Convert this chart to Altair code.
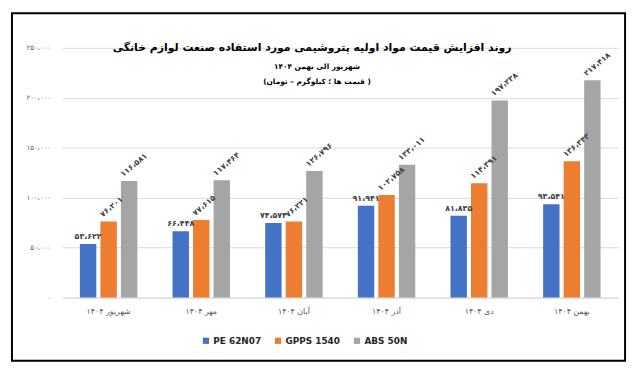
import altair as alt
import pandas as pd

months = ["شهریور ۱۴۰۴", "مهر ۱۴۰۴", "آبان ۱۴۰۴", "آذر ۱۴۰۴", "دی ۱۴۰۴", "بهمن ۱۴۰۴"]
series = ["PE 62N07", "GPPS 1540", "ABS 50N"]
pe_values = [53622, 66448, 74574, 91941, 81835, 93541]
gpps_values = [76201, 77615, 76221, 102758, 114391, 136343]
abs_values = [116581, 117464, 126796, 133011, 197238, 217418]
colors = ["#4472C4", "#ED7D31", "#A5A5A5"]
y_ticks = [0, 50000, 100000, 150000, 200000, 250000]
title_lines = [
    "روند افزایش  قیمت مواد اولیه پتروشیمی مورد استفاده صنعت لوازم خانگی",
    "شهریور الی بهمن ۱۴۰۴",
    "(قیمت ها ؛ کیلوگرم – تومان )",
]

FA = str.maketrans("0123456789", "۰۱۲۳۴۵۶۷۸۹")


def fa_num(v):
    return f"{v:,}".replace(",", "،").translate(FA)


rows = []
for s, vals in zip(series, [pe_values, gpps_values, abs_values]):
    for m, v in zip(months, vals):
        rows.append({"month": m, "series": s, "value": v, "label": fa_num(v)})
df = pd.DataFrame(rows)

label_expr = " : ".join(
    f"datum.value == {t} ? '{fa_num(t)}'" for t in y_ticks
) + " : ''"

FONT = "DejaVu Sans"

x_enc = alt.X(
    "month:N",
    sort=months,
    scale=alt.Scale(paddingInner=0.38, paddingOuter=0.19),
    axis=alt.Axis(
        title=None, labelAngle=0, ticks=False, domain=True, domainColor="#D9D9D9",
        labelFont=FONT, labelFontSize=8, labelColor="#595959", labelPadding=10,
    ),
)
xo_enc = alt.XOffset("series:N", sort=series, scale=alt.Scale(domain=series, paddingInner=0.2))
y_enc = alt.Y(
    "value:Q",
    scale=alt.Scale(domain=[0, 250000], nice=False),
    axis=alt.Axis(
        title=None, values=y_ticks, labelExpr=label_expr, grid=True, gridColor="#D9D9D9",
        domain=False, ticks=False, labelFont=FONT, labelFontSize=7, labelColor="#595959",
        labelPadding=12,
    ),
)

base = alt.Chart(df)

bars = base.mark_bar().encode(
    x=x_enc,
    xOffset=xo_enc,
    y=y_enc,
    color=alt.Color(
        "series:N",
        sort=series,
        scale=alt.Scale(domain=series, range=colors),
        legend=alt.Legend(
            title=None, orient="none", direction="horizontal", legendX=141, legendY=292,
            symbolType="square", symbolSize=40, symbolStrokeWidth=0, labelFont=FONT,
            labelFontSize=9, labelFontWeight="bold", labelColor="#262626",
            columnPadding=12, labelOffset=3,
        ),
    ),
)

blue_labels = base.transform_filter(alt.datum.series == series[0]).mark_text(
    font=FONT, fontSize=8, fontWeight="bold", color="#404040", baseline="bottom", dy=-3,
).encode(x=x_enc, xOffset=xo_enc, y=y_enc, text="label:N")

rot_labels = base.transform_filter(alt.datum.series != series[0]).mark_text(
    font=FONT, fontSize=8, fontWeight="bold", color="#404040", align="left",
    baseline="middle", angle=320, dy=-9, dx=-2,
).encode(x=x_enc, xOffset=xo_enc, y=y_enc, text="label:N")

title_df = pd.DataFrame({"t": title_lines})
t1 = alt.Chart(title_df.iloc[[0]]).mark_text(
    font=FONT, fontSize=11, fontWeight="bold", color="#000000", baseline="middle",
).encode(x=alt.value(253), y=alt.value(0), text="t:N")
t2 = alt.Chart(title_df.iloc[[1]]).mark_text(
    font=FONT, fontSize=7.5, fontWeight="bold", color="#000000", baseline="middle",
).encode(x=alt.value(258), y=alt.value(19), text="t:N")
t3 = alt.Chart(title_df.iloc[[2]]).mark_text(
    font=FONT, fontSize=7.5, fontWeight="bold", color="#000000", baseline="middle",
).encode(x=alt.value(258), y=alt.value(35), text="t:N")

frame = alt.Chart(title_df.iloc[[0]]).mark_rect(
    fill=None, stroke="#000000", strokeWidth=2, clip=False,
).encode(x=alt.value(-51), x2=alt.value(570), y=alt.value(-35), y2=alt.value(317))

chart = alt.layer(frame, bars, blue_labels, rot_labels, t1, t2, t3).properties(
    width=563, height=253,
    padding={"left": 3, "top": 2, "right": 5, "bottom": 5},
    background="white",
).configure_view(stroke=None)

chart.save("out.html", embed_options={"renderer": "svg", "actions": False})
